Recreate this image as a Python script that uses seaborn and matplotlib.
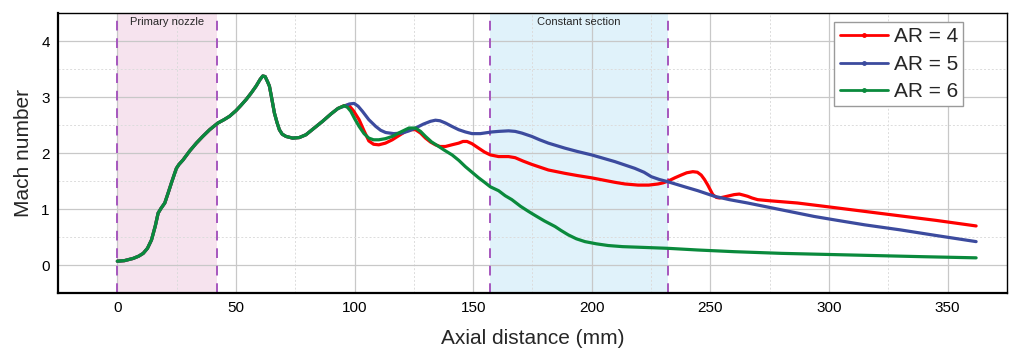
import numpy as np
import pandas as pd
import matplotlib
matplotlib.use("Agg")
import matplotlib.pyplot as plt
import seaborn as sns
from matplotlib.ticker import MultipleLocator
from matplotlib.lines import Line2D

# Shared development along the primary nozzle (identical for all area ratios)
common_x = [0, 3, 6.7, 9, 10.9, 12.7, 14.4, 16, 17.2, 18.5, 20, 21.5, 22.8, 24, 24.9,
            26, 27.7, 30.5, 33.3, 36, 38.9, 42.4, 45, 47.3, 50, 52, 54.3, 56.5, 58.5,
            60.2, 61.3, 62.3, 63.3, 64.1, 65, 66.2, 67.3, 68.3, 69.5, 71.1, 73.9, 76.7,
            79.5, 83, 86.5, 90, 93]
common_y = [0.07, 0.08, 0.12, 0.16, 0.21, 0.30, 0.45, 0.70, 0.93, 1.02, 1.11, 1.30, 1.47,
            1.62, 1.73, 1.80, 1.88, 2.04, 2.18, 2.30, 2.42, 2.54, 2.60, 2.66, 2.76, 2.85,
            2.96, 3.08, 3.20, 3.32, 3.38, 3.37, 3.28, 3.20, 3.00, 2.72, 2.55, 2.42, 2.34,
            2.30, 2.27, 2.28, 2.33, 2.45, 2.57, 2.70, 2.80]

ar4_x = [95.6, 97.5, 99.5, 101.9, 104, 106, 108, 110.2, 113, 115.9, 118.5, 121.5, 123.5,
         125.7, 127.8, 129.9, 132, 134.1, 136, 138.3, 141, 143.9, 145.7, 147.4, 149.5,
         152.3, 154.8, 157.2, 160.7, 164.9, 167.7, 171, 174.7, 181.7, 188.7, 194, 199.9,
         209.7, 214, 219.5, 224, 227.9, 230, 232.1, 235, 237.7, 240, 242.6, 244.5, 246.1,
         247.5, 248.9, 250, 251, 252.5, 253.8, 256, 258, 260, 262.2, 264, 265.7, 267.5,
         269.9, 275, 286.7, 300, 315, 330, 345, 362]
ar4_y = [2.85, 2.86, 2.76, 2.60, 2.40, 2.22, 2.16, 2.15, 2.18, 2.24, 2.31, 2.39, 2.42,
         2.42, 2.36, 2.27, 2.20, 2.15, 2.12, 2.12, 2.15, 2.18, 2.21, 2.21, 2.17,
         2.09, 2.02, 1.97, 1.94, 1.94, 1.92, 1.86, 1.80, 1.70, 1.64, 1.60, 1.56,
         1.48, 1.45, 1.43, 1.43, 1.45, 1.47, 1.50, 1.56, 1.61, 1.65, 1.67, 1.66, 1.61,
         1.53, 1.43, 1.34, 1.26, 1.21, 1.20, 1.22, 1.24, 1.26, 1.27, 1.25, 1.23, 1.20,
         1.17, 1.15, 1.11, 1.04, 0.96, 0.88, 0.80, 0.70]

ar5_x = [95.6, 97.8, 99.8, 101.5, 103.3, 106, 108.9, 111, 113.1, 116.5, 120.1, 123, 125.7,
         129, 132, 134.1, 136, 138.3, 141, 143.9, 146.7, 149.5, 153, 157.9, 160.7, 164.9,
         167.7, 170.5, 174.7, 178, 181.7, 188.7, 194, 199.9, 209.7, 218.1, 222, 225.1,
         228.5, 232.1, 239.1, 244.7, 251.7, 258, 265.7, 279.7, 293.7, 303.5, 315, 330,
         345, 362]
ar5_y = [2.84, 2.88, 2.89, 2.84, 2.75, 2.60, 2.48, 2.41, 2.37, 2.35, 2.36, 2.40, 2.45,
         2.52, 2.57, 2.59, 2.58, 2.54, 2.48, 2.42, 2.38, 2.35, 2.35, 2.38, 2.39, 2.40,
         2.39, 2.36, 2.30, 2.24, 2.18, 2.09, 2.03, 1.97, 1.85, 1.73, 1.66, 1.58,
         1.53, 1.49, 1.40, 1.33, 1.23, 1.17, 1.11, 0.99, 0.87, 0.80, 0.72, 0.63,
         0.53, 0.42]

ar6_x = [95.6, 97, 98.4, 100, 101.9, 104, 106, 108, 110.2, 113, 115.9, 119, 122.9, 125.7,
         127.8, 129.9, 132.5, 135.5, 138, 141.1, 144, 146.7, 149.5, 152.3, 154.8, 157.2,
         160.7, 163.5, 166.3, 170, 173.3, 176, 180, 184.5, 187, 190.1, 193.5, 197.1, 202,
         206.9, 213, 219.5, 232.1, 244.7, 260, 280, 300, 320, 340, 362]
ar6_y = [2.85, 2.82, 2.75, 2.62, 2.48, 2.35, 2.27, 2.24, 2.24, 2.26, 2.30, 2.37, 2.45, 2.45,
         2.39, 2.30, 2.20, 2.12, 2.05, 1.97, 1.87, 1.76, 1.66, 1.56, 1.48, 1.40,
         1.33, 1.24, 1.17, 1.05, 0.96, 0.89, 0.79, 0.69, 0.62, 0.54, 0.47, 0.42, 0.38,
         0.35, 0.33, 0.32, 0.30, 0.27, 0.24, 0.21, 0.19, 0.17, 0.15, 0.13]

series_names = ["AR = 4", "AR = 5", "AR = 6"]
series_colors = ["#FF0000", "#3C4B9E", "#0A8A3C"]
tails = [(ar4_x, ar4_y), (ar5_x, ar5_y), (ar6_x, ar6_y)]

frames = []
for name, (tx, ty) in zip(series_names, tails):
    frames.append(pd.DataFrame({"distance": common_x + tx,
                                "mach": common_y + ty,
                                "series": name}))
df = pd.concat(frames, ignore_index=True)

region_edges = [0, 42.2, 157, 232]

sns.set_style("white")
plt.rcParams["font.family"] = ["Liberation Sans", "DejaVu Sans"]

fig, ax = plt.subplots(figsize=(10.11, 3.51), dpi=100)
fig.subplots_adjust(left=0.0574, right=0.996, bottom=0.165, top=0.962)

ax.axvspan(region_edges[0], region_edges[1], color="#F6E3EE", zorder=0, lw=0)
ax.axvspan(region_edges[2], region_edges[3], color="#E0F2FA", zorder=0, lw=0)
for xe in region_edges:
    ax.axvline(xe, color="#A657BE", ls=(0, (5, 4)), lw=1.4, zorder=1)

sns.lineplot(data=df, x="distance", y="mach", hue="series", hue_order=series_names,
             palette=series_colors, estimator=None, sort=False, lw=2.3,
             legend=False, ax=ax, zorder=3)

ax.set_xlim(-25, 375)
ax.set_ylim(-0.5, 4.5)
ax.xaxis.set_major_locator(MultipleLocator(50))
ax.xaxis.set_minor_locator(MultipleLocator(25))
ax.yaxis.set_major_locator(MultipleLocator(1))
ax.yaxis.set_minor_locator(MultipleLocator(0.5))
ax.set_axisbelow(True)
ax.grid(which="major", color="#C8C8C8", lw=0.9)
ax.grid(which="minor", color="#DCDCDC", ls=(0, (2, 2)), lw=0.7)

ax.tick_params(which="major", direction="in", length=7, width=1.2, labelsize=11,
               colors="black", pad=6)
ax.tick_params(which="minor", direction="in", length=4, width=1.0)
for side in ["left", "bottom"]:
    ax.spines[side].set_linewidth(1.6)
    ax.spines[side].set_color("black")
for side in ["top", "right"]:
    ax.spines[side].set_linewidth(1.0)
    ax.spines[side].set_color("black")

ax.set_xlabel("Axial distance (mm)", fontsize=15, labelpad=10)
ax.set_ylabel("Mach number", fontsize=15, labelpad=6)

ax.text(21.1, 4.34, "Primary nozzle", ha="center", va="center", fontsize=8)
ax.text(194.5, 4.34, "Constant section", ha="center", va="center", fontsize=8)

handles = [Line2D([0], [0], color=c, lw=2.0, marker="o", markersize=2.5)
           for c in series_colors]
leg = ax.legend(handles, series_names, loc="upper right", bbox_to_anchor=(0.954, 0.968),
                borderaxespad=0, fontsize=15, handlelength=2.3, handletextpad=0.3,
                labelspacing=0.4, fancybox=False, framealpha=1, edgecolor="#9A9A9A",
                borderpad=0.25)
leg.get_frame().set_linewidth(1.0)

fig.savefig("out.png", dpi=100)
